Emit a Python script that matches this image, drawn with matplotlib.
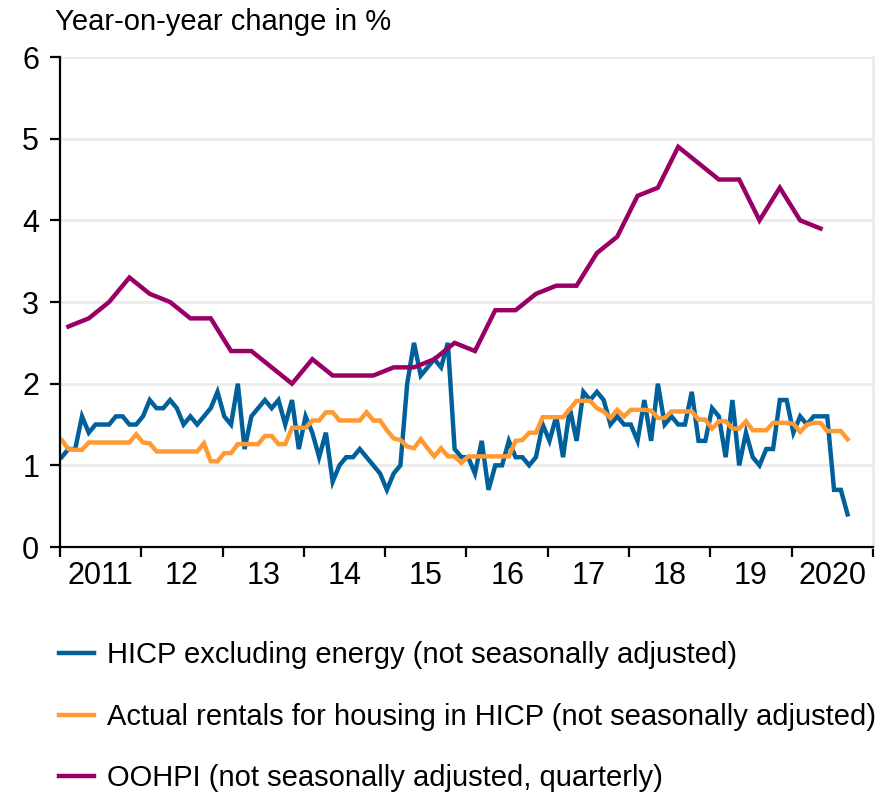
"""Year-on-year change: HICP excl. energy, actual rentals, OOHPI (2011-2020)."""
import matplotlib as mpl
import matplotlib.pyplot as plt
import numpy as np

mpl.rcParams.update({
    "font.family": ["Liberation Sans", "DejaVu Sans"],
    "font.size": 21,
    "axes.linewidth": 1.6,
    "axes.edgecolor": "#000000",
    "savefig.facecolor": "white", "figure.facecolor": "white",
})

C_HICP = "#00609c"
C_RENT = "#ff9a33"
C_OOH = "#990066"
C_GRID = "#ebebeb"

# ----- Data (monthly from Jan 2011, quarterly from Q1 2011) -----
hicp_ex_energy = [
    1.1, 1.2, 1.2, 1.6, 1.4, 1.5, 1.5, 1.5, 1.6, 1.6,
    1.5, 1.5, 1.6, 1.8, 1.7, 1.7, 1.8, 1.7, 1.5, 1.6,
    1.5, 1.6, 1.7, 1.9, 1.6, 1.5, 2.0, 1.2, 1.6, 1.7,
    1.8, 1.7, 1.8, 1.5, 1.8, 1.2, 1.6, 1.4, 1.1, 1.4,
    0.8, 1.0, 1.1, 1.1, 1.2, 1.1, 1.0, 0.9, 0.7, 0.9,
    1.0, 2.0, 2.5, 2.1, 2.2, 2.3, 2.2, 2.5, 1.2, 1.1,
    1.1, 0.9, 1.3, 0.7, 1.0, 1.0, 1.3, 1.1, 1.1, 1.0,
    1.1, 1.5, 1.3, 1.6, 1.1, 1.7, 1.3, 1.9, 1.8, 1.9,
    1.8, 1.5, 1.6, 1.5, 1.5, 1.3, 1.8, 1.3, 2.0, 1.5,
    1.6, 1.5, 1.5, 1.9, 1.3, 1.3, 1.7, 1.6, 1.1, 1.8,
    1.0, 1.4, 1.1, 1.0, 1.2, 1.2, 1.8, 1.8, 1.4, 1.6,
    1.5, 1.6, 1.6, 1.6, 0.7, 0.7, 0.4,
]
actual_rentals = [
    1.31, 1.20, 1.19, 1.19, 1.28, 1.28, 1.28, 1.28, 1.28, 1.28,
    1.28, 1.38, 1.28, 1.27, 1.17, 1.17, 1.17, 1.17, 1.17, 1.17,
    1.17, 1.27, 1.05, 1.05, 1.15, 1.15, 1.26, 1.26, 1.26, 1.26,
    1.36, 1.36, 1.26, 1.26, 1.46, 1.46, 1.46, 1.55, 1.55, 1.65,
    1.65, 1.55, 1.55, 1.55, 1.55, 1.65, 1.55, 1.55, 1.43, 1.33,
    1.31, 1.23, 1.21, 1.32, 1.21, 1.11, 1.21, 1.11, 1.11, 1.03,
    1.11, 1.11, 1.11, 1.11, 1.11, 1.11, 1.11, 1.30, 1.31, 1.40,
    1.40, 1.59, 1.59, 1.59, 1.59, 1.69, 1.79, 1.79, 1.79, 1.70,
    1.66, 1.58, 1.68, 1.60, 1.68, 1.68, 1.68, 1.67, 1.58, 1.58,
    1.66, 1.66, 1.66, 1.66, 1.56, 1.56, 1.45, 1.54, 1.54, 1.45,
    1.45, 1.54, 1.43, 1.43, 1.43, 1.52, 1.52, 1.52, 1.51, 1.41,
    1.50, 1.52, 1.52, 1.42, 1.42, 1.42, 1.32,
]
oohpi = [
    2.7, 2.8, 3.0, 3.3, 3.1, 3.0, 2.8, 2.8, 2.4, 2.4,
    2.2, 2.0, 2.3, 2.1, 2.1, 2.1, 2.2, 2.2, 2.3, 2.5,
    2.4, 2.9, 2.9, 3.1, 3.2, 3.2, 3.6, 3.8, 4.3, 4.4,
    4.9, 4.7, 4.5, 4.5, 4.0, 4.4, 4.0, 3.9,
]
year_labels = ["2011", "12", "13", "14", "15", "16", "17", "18", "19", "2020"]
series_labels = [
    "HICP excluding energy (not seasonally adjusted)",
    "Actual rentals for housing in HICP (not seasonally adjusted)",
    "OOHPI (not seasonally adjusted, quarterly)",
]

START = 2011
x_month = START + (np.arange(len(hicp_ex_energy)) + 0.25) / 12
x_quarter = START + (np.arange(len(oohpi)) * 3 + 1.25) / 12

# ----- Draw -----
fig = plt.figure(figsize=(8.91, 7.92), dpi=100)
ax = fig.add_axes([0.0673, 0.3093, 0.9125, 0.6187])

lw = 3.2
h1, = ax.plot(x_month, hicp_ex_energy, color=C_HICP, lw=lw, solid_joinstyle="miter")
h2, = ax.plot(x_month, actual_rentals, color=C_RENT, lw=lw, solid_joinstyle="miter")
h3, = ax.plot(x_quarter, oohpi, color=C_OOH, lw=lw, solid_joinstyle="miter")
h2.set_zorder(2.1)
h3.set_zorder(2.2)

ax.set_xlim(START, START + 10)
ax.set_ylim(0, 6)
ax.set_yticks(range(0, 7))
ax.set_xticks(np.arange(START, START + 11))
ax.set_xticklabels([])
ax.set_xticks(np.arange(START, START + 10) + 0.5, minor=True)
ax.set_xticklabels(year_labels, minor=True)
ax.tick_params(axis="x", which="major", direction="out", length=7, width=1.6)
ax.tick_params(axis="x", which="minor", length=0, pad=10, labelsize=22)
ax.tick_params(axis="y", direction="out", length=7, width=1.6, pad=8, labelsize=22)

for v in range(1, 7):
    ax.axhline(v, color=C_GRID, lw=2.0, zorder=0.5)
ax.spines["top"].set_visible(False)
ax.spines["right"].set_color(C_GRID)
ax.spines["right"].set_linewidth(2.0)

fig.text(0.062, 0.972, "Year-on-year change in %", fontsize=21, va="center", ha="left")

fig.legend([h1, h2, h3], series_labels, loc="upper left",
           bbox_to_anchor=(0.053, 0.205), frameon=False, fontsize=21,
           handlelength=1.2, handletextpad=0.45, labelspacing=1.15,
           borderaxespad=0)

fig.savefig("out.png", dpi=100)
